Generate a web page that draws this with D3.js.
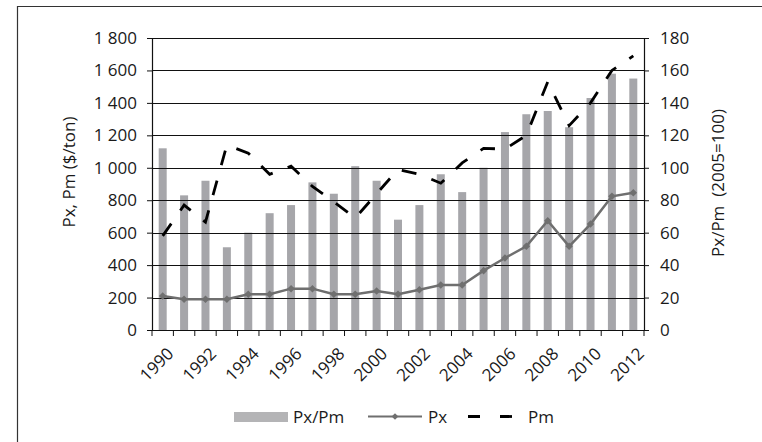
<!DOCTYPE html>
<html>
<head>
<meta charset="utf-8">
<script src="https://cdn.jsdelivr.net/npm/d3@7"></script>
<style>
  html, body { margin: 0; padding: 0; background: #fff; }
  svg { display: block; }
  text { font-family: "Open Sans", "Noto Sans", sans-serif; fill: #1a1a1a; }
</style>
</head>
<body>
<svg id="chart" width="762" height="442"></svg>
<script>
// Years on the category axis
const years = d3.range(1990, 2013);
// Px/Pm index (2005=100), right axis
const ratio = [112, 83, 92, 51, 60, 72, 77, 91, 84, 101, 92, 68, 77, 96, 85, 100, 122, 133, 135, 125, 143, 158, 155];
// Export price Px, $/ton, left axis
const px = [210, 190, 190, 190, 220, 220, 255, 255, 220, 220, 240, 220, 248, 277, 277, 366, 444, 516, 674, 516, 653, 824, 846];
// Import price Pm, $/ton, left axis
const pm = [580, 770, 665, 1140, 1090, 960, 1010, 885, 790, 690, 840, 990, 960, 905, 1030, 1120, 1115, 1200, 1530, 1260, 1400, 1600, 1690];
// Tick values
const leftTicks = d3.range(0, 1801, 200);
const rightTicks = d3.range(0, 181, 20);
const yearLabels = years.filter(y => y % 2 === 0);

const FS = "17px";
const svg = d3.select("#chart");
const L = 152, R = 644, T = 38, B = 330;

const x = d3.scaleBand().domain(years).range([L, R]).padding(0);
const yL = d3.scaleLinear().domain([0, 1800]).range([B, T]);
const yR = d3.scaleLinear().domain([0, 180]).range([B, T]);
const cx = d => x(d) + x.bandwidth() / 2;

// Frame lines
svg.append("line").attr("x1", 17).attr("x2", 762).attr("y1", 6.5).attr("y2", 6.5)
  .attr("stroke", "#333").attr("stroke-width", 1.2);
svg.append("line").attr("x1", 17.5).attr("x2", 17.5).attr("y1", 6).attr("y2", 442)
  .attr("stroke", "#333").attr("stroke-width", 1.2);

// Bars: Px/Pm
svg.append("g").selectAll("rect").data(years).join("rect")
  .attr("x", d => cx(d) - 4)
  .attr("width", 8)
  .attr("y", (d, i) => yR(ratio[i]))
  .attr("height", (d, i) => B - yR(ratio[i]))
  .attr("fill", "#a6a6aa");

// Horizontal gridlines
svg.append("g").selectAll("line").data(leftTicks.filter(v => v > 0)).join("line")
  .attr("x1", L).attr("x2", R)
  .attr("y1", d => Math.round(yL(d)) + 0.5).attr("y2", d => Math.round(yL(d)) + 0.5)
  .attr("stroke", "#111").attr("stroke-width", 1);

// Left axis
const gL = svg.append("g").attr("transform", `translate(${L},0)`)
  .call(d3.axisLeft(yL).tickValues(leftTicks).tickSize(5).tickPadding(10)
    .tickFormat(d => d3.format(",")(d).replace(",", " ")));
// Right axis
const gR = svg.append("g").attr("transform", `translate(${R},0)`)
  .call(d3.axisRight(yR).tickValues(rightTicks).tickSize(5).tickPadding(11));
// Bottom axis with ticks at band boundaries
const gB = svg.append("g").attr("transform", `translate(0,${B})`)
  .call(d3.axisBottom(x).tickValues([]).tickSizeOuter(0));
gB.selectAll("line.bnd").data(years.concat([2013])).join("line").attr("class", "bnd")
  .attr("x1", (d, i) => L + i * x.bandwidth()).attr("x2", (d, i) => L + i * x.bandwidth())
  .attr("y1", 0).attr("y2", 6).attr("stroke", "#111");
gB.selectAll("text.yr").data(yearLabels).join("text").attr("class", "yr")
  .attr("transform", d => `translate(${cx(d) + 8},${21}) rotate(-45)`)
  .attr("text-anchor", "end")
  .attr("dy", "0.32em")
  .style("font-size", FS)
  .text(d => d);

[gL, gR, gB].forEach(g => {
  g.selectAll(".domain").attr("stroke", "#111").attr("stroke-width", 1.2);
  g.selectAll(".tick line").attr("stroke", "#111");
  g.selectAll(".tick text").style("font-size", FS).attr("fill", "#1a1a1a");
});

// Axis titles
svg.append("text").attr("transform", `translate(75,172) rotate(-90)`)
  .attr("text-anchor", "middle").style("font-size", FS).text("Px, Pm ($/ton)");
svg.append("text").attr("transform", `translate(724,183) rotate(-90)`)
  .attr("text-anchor", "middle").style("font-size", FS).style("white-space", "pre")
  .text("Px/Pm  (2005=100)");

// Px line with diamond markers
const linePx = d3.line().x((d, i) => cx(years[i])).y(d => yL(d));
svg.append("path").datum(px).attr("d", linePx)
  .attr("fill", "none").attr("stroke", "#6f6f6f").attr("stroke-width", 2.5);
svg.append("g").selectAll("path").data(px).join("path")
  .attr("d", d3.symbol(d3.symbolDiamond2, 36))
  .attr("transform", (d, i) => `translate(${cx(years[i])},${yL(d)})`)
  .attr("fill", "#6f6f6f");

// Pm dashed line
const linePm = d3.line().x((d, i) => cx(years[i])).y(d => yL(d));
svg.append("path").datum(pm).attr("d", linePm)
  .attr("fill", "none").attr("stroke", "#000").attr("stroke-width", 2.8)
  .attr("stroke-dasharray", "15,16");

// Legend
const lg = svg.append("g");
lg.append("rect").attr("x", 234).attr("y", 412).attr("width", 54).attr("height", 10).attr("fill", "#b4b4b6");
lg.append("text").attr("x", 293).attr("y", 417).attr("dy", "0.35em").style("font-size", FS).text("Px/Pm");
lg.append("line").attr("x1", 368).attr("x2", 422).attr("y1", 416.5).attr("y2", 416.5)
  .attr("stroke", "#6f6f6f").attr("stroke-width", 2);
lg.append("path").attr("d", d3.symbol(d3.symbolDiamond2, 28))
  .attr("transform", "translate(395,416.5)").attr("fill", "#6f6f6f");
lg.append("text").attr("x", 428).attr("y", 417).attr("dy", "0.35em").style("font-size", FS).text("Px");
lg.append("line").attr("x1", 468).attr("x2", 512).attr("y1", 416.5).attr("y2", 416.5)
  .attr("stroke", "#000").attr("stroke-width", 2.8).attr("stroke-dasharray", "12,20");
lg.append("text").attr("x", 528).attr("y", 417).attr("dy", "0.35em").style("font-size", FS).text("Pm");
</script>
</body>
</html>
